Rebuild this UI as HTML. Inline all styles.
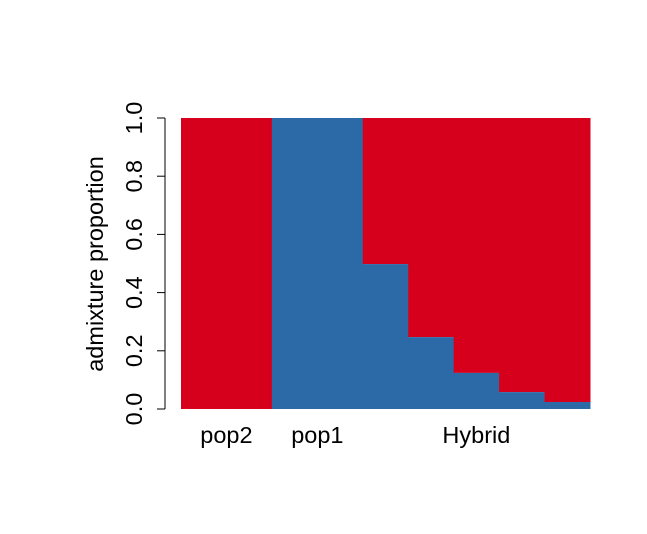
<!DOCTYPE html>
<html><head><meta charset="utf-8"><style>
body{margin:0;background:#fff}
svg text{font-family:"Liberation Sans",Arial,sans-serif;fill:#000}
</style></head><body>
<svg id="chart" width="647" height="529" viewBox="0 0 647 529">
<g id="bars"></g>
<g id="axis"></g>
<text x="103" y="264" font-size="23.5" text-anchor="middle" transform="rotate(-90 103 264)">admixture proportion</text>
</svg>
<script>
const individuals = ["pop2a","pop2b","pop1a","pop1b","hyb1","hyb2","hyb3","hyb4","hyb5"];
const pop1Share = [0,0,1,1,0.498,0.247,0.124,0.058,0.024];
const groupLabels = ["pop2","pop1","Hybrid"];
const groupStart = [0,2,4];
const groupEnd = [2,4,9];
const yTicks = [0,0.2,0.4,0.6,0.8,1.0];
const yTickLabels = ["0.0","0.2","0.4","0.6","0.8","1.0"];

const NS="http://www.w3.org/2000/svg";
const x0=181,x1=590,yTop=118,yBot=409;
const bw=(x1-x0)/individuals.length;
const xs=i=>x0+i*bw;
const ys=v=>yBot-v*(yBot-yTop);
const bars=document.getElementById('bars');
pop1Share.forEach((v,i)=>{
  const r=document.createElementNS(NS,'rect');
  r.setAttribute('x',xs(i));r.setAttribute('width',bw+0.5);
  r.setAttribute('y',yTop);r.setAttribute('height',ys(v)-yTop);
  r.setAttribute('fill','#D7001C');
  
  
  bars.appendChild(r);
  const b=document.createElementNS(NS,'rect');
  b.setAttribute('x',xs(i));b.setAttribute('width',bw+0.5);
  b.setAttribute('y',ys(v));b.setAttribute('height',yBot-ys(v));
  b.setAttribute('fill','#2C69A7');
  
  
  bars.appendChild(b);
});
const ax=document.getElementById('axis');
const line=document.createElementNS(NS,'line');
line.setAttribute('x1',165);line.setAttribute('x2',165);
line.setAttribute('y1',ys(yTicks[0]));line.setAttribute('y2',ys(yTicks[yTicks.length-1]));
line.setAttribute('stroke','#000');


ax.appendChild(line);
yTicks.forEach((t,i)=>{
  const l=document.createElementNS(NS,'line');
  l.setAttribute('x1',157);l.setAttribute('x2',165);
  l.setAttribute('y1',ys(t));l.setAttribute('y2',ys(t));
  l.setAttribute('stroke','#000');
  
  
  ax.appendChild(l);
  const tx=document.createElementNS(NS,'text');
  tx.setAttribute('x',142);tx.setAttribute('y',ys(t));
  tx.setAttribute('font-size','23.5');tx.setAttribute('text-anchor','middle');
  tx.setAttribute('transform','rotate(-90 142 '+ys(t)+')');
  tx.textContent=yTickLabels[i];
  
  
  ax.appendChild(tx);
});
const svg=document.getElementById('chart');
groupLabels.forEach((g,i)=>{
  const tx=document.createElementNS(NS,'text');
  tx.setAttribute('x',(xs(groupStart[i])+xs(groupEnd[i]))/2);
  tx.setAttribute('y',443);
  tx.setAttribute('font-size','23.5');tx.setAttribute('text-anchor','middle');
  tx.textContent=g;
  
  
  svg.appendChild(tx);
});
</script>
</body></html>
